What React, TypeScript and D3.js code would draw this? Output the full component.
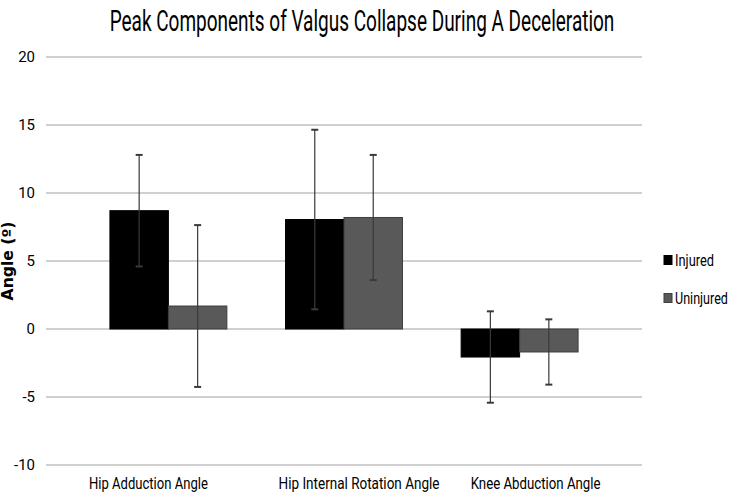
import React, { useLayoutEffect, useRef, useState } from 'react';
import * as d3 from 'd3';

const categories = ['Hip Adduction Angle', 'Hip Internal Rotation Angle', 'Knee Abduction Angle'];
const seriesNames = ['Injured', 'Uninjured'];
const injuredMean = [8.7, 8.05, -2.06];
const injuredSd = [4.1, 6.6, 3.36];
const uninjuredMean = [1.69, 8.2, -1.69];
const uninjuredSd = [5.95, 4.6, 2.4];
const yTicks = [-10, -5, 0, 5, 10, 15, 20];

const colors = ['#000000', '#595959'];
const strokes = ['#000000', '#3f3f3f'];
// the category labels in the picture sit a little off their groups
const labelNudge = [-20, 15, 16];
const labelWidths = [119, 161, 130];
const legendWidths = [39, 53];

const W = 731, H = 495;
const left = 46, right = 642, top = 57, bottom = 465;
const font = "'Liberation Sans Narrow', 'Roboto', sans-serif";

// text squeezed horizontally to a target width (the original font is a narrow one)
function FitText({ x, y, width, anchor = 'start', children, ...rest }: any) {
  const ref = useRef<SVGTextElement>(null);
  const [k, setK] = useState(1);
  useLayoutEffect(() => {
    if (!ref.current) return;
    const w = ref.current.getBBox().width;
    if (w > 0) setK(Math.min(1.2, width / w));
  }, [width, children]);
  return (
    <g transform={`translate(${x},${y}) scale(${k},1)`}>
      <text ref={ref} x={0} y={0} textAnchor={anchor} {...rest}>{children}</text>
    </g>
  );
}

export default function App() {
  const x = d3.scaleBand<string>()
    .domain(categories)
    .range([left, right])
    .paddingInner(0.334)
    .paddingOuter(0.364);

  const xs = d3.scaleBand<string>()
    .domain(seriesNames)
    .range([0, x.bandwidth()]);

  const y = d3.scaleLinear().domain([-10, 20]).range([bottom, top]);

  const series = [
    { name: 'Injured', mean: injuredMean, sd: injuredSd },
    { name: 'Uninjured', mean: uninjuredMean, sd: uninjuredSd },
  ];

  const cap = 3.5;

  return (
    <svg width={W} height={H} style={{ position: 'absolute', left: 0, top: 0, background: '#fff' }}>
      {/* title */}
      <FitText x={362} y={31} width={505} anchor="middle" fontFamily={font} fontSize={29} fill="#000">
        Peak Components of Valgus Collapse During A Deceleration
      </FitText>

      {/* gridlines + y ticks */}
      {yTicks.map(t => (
        <g key={t}>
          <line x1={left} x2={right} y1={y(t)} y2={y(t)} stroke="#c0c0c0" strokeWidth={1.5} />
          <text x={35} y={y(t)} dy="0.35em" textAnchor="end" fontFamily={font} fontSize={15} fill="#000">
            {t}
          </text>
        </g>
      ))}

      {/* y axis title */}
      <g transform="translate(13,261) rotate(-90)">
        <FitText x={0} y={0} width={79} anchor="middle" fontFamily="'DejaVu Sans', sans-serif"
          fontWeight="bold" fontSize={15} fill="#000">
          Angle (º)
        </FitText>
      </g>

      {/* bars */}
      {series.map((s, si) => (
        <g key={s.name}>
          {categories.map((c, ci) => {
            const v = s.mean[ci];
            const bx = (x(c) ?? 0) + (xs(s.name) ?? 0);
            return (
              <rect key={c} x={bx} width={xs.bandwidth()} y={y(Math.max(0, v))}
                height={Math.abs(y(v) - y(0))} fill={colors[si]} stroke={strokes[si]} strokeWidth={1} />
            );
          })}
        </g>
      ))}

      {/* error bars */}
      {series.map(s => (
        <g key={s.name + '-err'} stroke="#3a3a3a" strokeWidth={1.2}>
          {categories.map((c, ci) => {
            const cx = (x(c) ?? 0) + (xs(s.name) ?? 0) + xs.bandwidth() / 2;
            const hi = y(s.mean[ci] + s.sd[ci]);
            const lo = y(s.mean[ci] - s.sd[ci]);
            return (
              <g key={c}>
                <line x1={cx} x2={cx} y1={hi} y2={lo} />
                <line x1={cx - cap} x2={cx + cap} y1={hi} y2={hi} strokeWidth={2} />
                <line x1={cx - cap} x2={cx + cap} y1={lo} y2={lo} strokeWidth={2} />
              </g>
            );
          })}
        </g>
      ))}

      {/* category labels */}
      {categories.map((c, ci) => (
        <FitText key={c} x={(x(c) ?? 0) + x.bandwidth() / 2 + labelNudge[ci]} y={489} width={labelWidths[ci]}
          anchor="middle" fontFamily={font} fontSize={16} fill="#000">
          {c}
        </FitText>
      ))}

      {/* legend */}
      {seriesNames.map((n, i) => (
        <g key={n} transform={`translate(664,${260 + i * 38})`}>
          <rect x={0} y={-4.5} width={8} height={9} fill={colors[i]} stroke={strokes[i]} />
          <FitText x={11} y={0} width={legendWidths[i]} dy="0.35em" fontFamily={font} fontSize={16} fill="#000">
            {n}
          </FitText>
        </g>
      ))}
    </svg>
  );
}
